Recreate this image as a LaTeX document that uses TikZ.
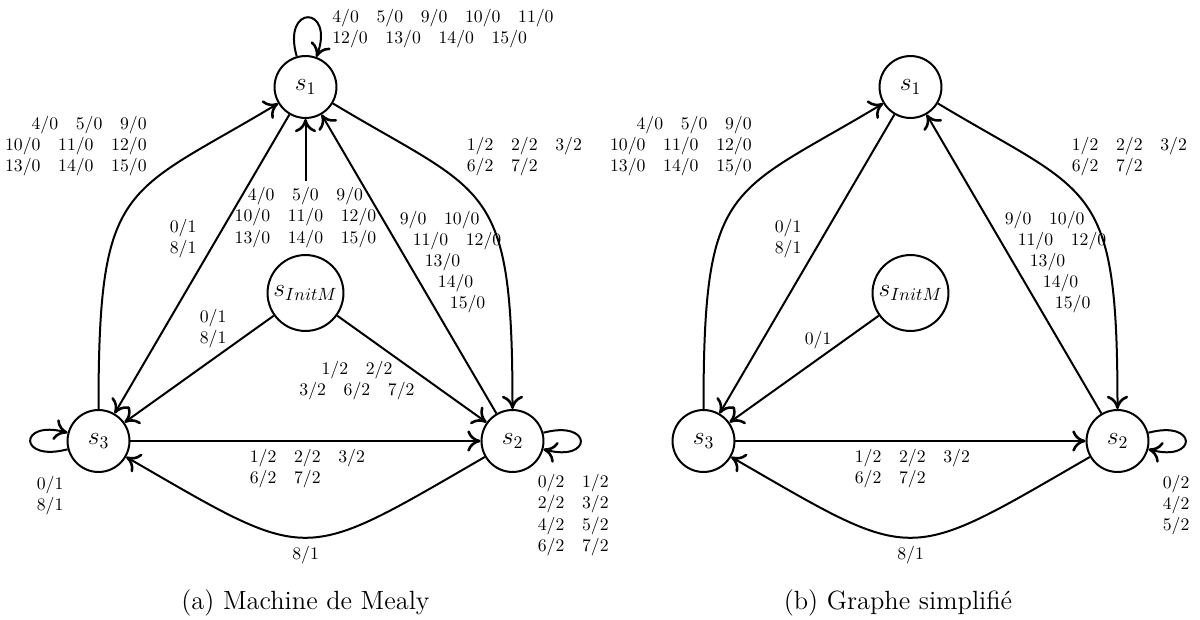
\documentclass[tikz,border=0pt]{standalone}
\usetikzlibrary{arrows.meta}
\begin{document}
\begin{tikzpicture}[x=0.565pt,y=0.565pt,
  >={Computer Modern Rightarrow[length=7.5pt,width=12pt,line width=1.45pt]},
  state/.style={circle,draw,line width=1.13pt,minimum size=35pt,inner sep=0pt,font=\Large},
  bigstate/.style={state,minimum size=42.9pt},
  arr/.style={line width=1.13pt,->},
  plain/.style={line width=1.13pt},
  lab/.style={inner sep=0pt,font=\fontsize{10}{12}\selectfont,align=left},
  labr/.style={lab,align=right},
  labc/.style={lab,align=center},
  captext/.style={inner sep=0pt,font=\fontsize{14.9}{18}\selectfont}]
\path[use as bounding box] (0,0) rectangle (1200,-619);

% ---------- (a) Machine de Mealy ----------
\node[state]    (a1) at (305.5,-87)  {$s_1$};
\node[bigstate] (aI) at (305.5,-293) {$s_{InitM}$};
\node[state]    (a3) at (98.5,-441)  {$s_3$};
\node[state]    (a2) at (512.5,-441) {$s_2$};

\node[labc,inner sep=3.33pt] (la4) at (305.5,-217.5)
  {4/0\quad 5/0\quad 9/0\\10/0\quad 11/0\quad 12/0\\13/0\quad 14/0\quad 15/0};

\draw[arr] (a1) to[loop above,out=106,in=70,distance=31pt] (a1);
\draw[arr] (a3) to[loop left,distance=29pt] (a3);
\draw[arr] (a2) to[loop right,distance=29pt] (a2);
\draw[arr] (a3) to[out=90,in=211,out distance=130pt,in distance=101.7pt] (a1);
\draw[arr] (a1) -- (a3);
\draw[plain] (aI) -- (la4);
\draw[arr] (la4) -- (a1);
\draw[arr] (a2) -- (a1);
\draw[arr] (a1) to[out=-31,in=90,out distance=101.7pt,in distance=130pt] (a2);
\draw[arr] (aI) -- (a3);
\draw[arr] (aI) -- (a2);
\draw[arr] (a3) -- (a2);
\draw[arr] (a2) to[out=210,in=330,distance=121.5pt] (a3);

\node[lab,anchor=north west] (la1) at (332,-9.1)
  {4/0\quad 5/0\quad 9/0\quad 10/0\quad 11/0\\12/0\quad 13/0\quad 14/0\quad 15/0};
\node[labr,anchor=north east] (la2) at (147,-115.7)
  {4/0\quad 5/0\quad 9/0\\10/0\quad 11/0\quad 12/0\\13/0\quad 14/0\quad 15/0};
\node[lab,anchor=north west] (la3) at (466.5,-136.4)
  {1/2\quad 2/2\quad 3/2\\6/2\quad 7/2};
\node[lab,anchor=north west] (la5) at (169.5,-219.1) {0/1\\8/1};
\node[lab,anchor=north west] (la6) at (399.5,-210.4)
  {9/0\quad 10/0\\\hspace*{7.3pt}11/0\quad 12/0\\\hspace*{14.1pt}13/0\\\hspace*{21.5pt}14/0\\\hspace*{28.3pt}15/0};
\node[lab,anchor=north west] (la7) at (199.5,-309.1) {0/1\\8/1};
\node[labc,anchor=north] (la8) at (357,-360.7) {1/2\quad 2/2\\3/2\quad 6/2\quad 7/2};
\node[lab,anchor=north west] (la9) at (249.5,-448.4) {1/2\quad 2/2\quad 3/2\\6/2\quad 7/2};
\node[lab,anchor=north west] (la10) at (36.5,-475.8) {0/1\\8/1};
\node[lab,anchor=north west] (la11) at (537.5,-474.1)
  {0/2\quad 1/2\\2/2\quad 3/2\\4/2\quad 5/2\\6/2\quad 7/2};
\node[labc,anchor=north] (la12) at (305.6,-545.4) {8/1};
\node[captext,anchor=base] (capa) at (305.5,-609) {(a) Machine de Mealy};

% ---------- (b) Graphe simplifie ----------
\node[state]    (b1) at (910.5,-87)  {$s_1$};
\node[bigstate] (bI) at (910.5,-293) {$s_{InitM}$};
\node[state]    (b3) at (703.5,-441) {$s_3$};
\node[state]    (b2) at (1117.5,-441) {$s_2$};

\draw[arr] (b2) to[loop right,distance=29pt] (b2);
\draw[arr] (b3) to[out=90,in=211,out distance=130pt,in distance=101.7pt] (b1);
\draw[arr] (b1) -- (b3);
\draw[arr] (b2) -- (b1);
\draw[arr] (b1) to[out=-31,in=90,out distance=101.7pt,in distance=130pt] (b2);
\draw[arr] (bI) -- (b3);
\draw[arr] (b3) -- (b2);
\draw[arr] (b2) to[out=210,in=330,distance=121.5pt] (b3);

\node[labr,anchor=north east] (lb2) at (752,-115.7)
  {4/0\quad 5/0\quad 9/0\\10/0\quad 11/0\quad 12/0\\13/0\quad 14/0\quad 15/0};
\node[lab,anchor=north west] (lb3) at (1071.5,-136.4)
  {1/2\quad 2/2\quad 3/2\\6/2\quad 7/2};
\node[lab,anchor=north west] (lb5) at (774.5,-219.1) {0/1\\8/1};
\node[lab,anchor=north west] (lb6) at (1004.5,-210.4)
  {9/0\quad 10/0\\\hspace*{7.3pt}11/0\quad 12/0\\\hspace*{14.1pt}13/0\\\hspace*{21.5pt}14/0\\\hspace*{28.3pt}15/0};
\node[lab,anchor=north west] (lb7) at (804.5,-331) {0/1};
\node[lab,anchor=north west] (lb9) at (854.5,-448.4) {1/2\quad 2/2\quad 3/2\\6/2\quad 7/2};
\node[lab,anchor=north west] (lb11) at (1162.5,-474.4) {0/2\\4/2\\5/2};
\node[labc,anchor=north] (lb12) at (910.6,-545.4) {8/1};
\node[captext,anchor=base] (capb) at (898,-609) {(b) Graphe simplifié};
\end{tikzpicture}
\end{document}
